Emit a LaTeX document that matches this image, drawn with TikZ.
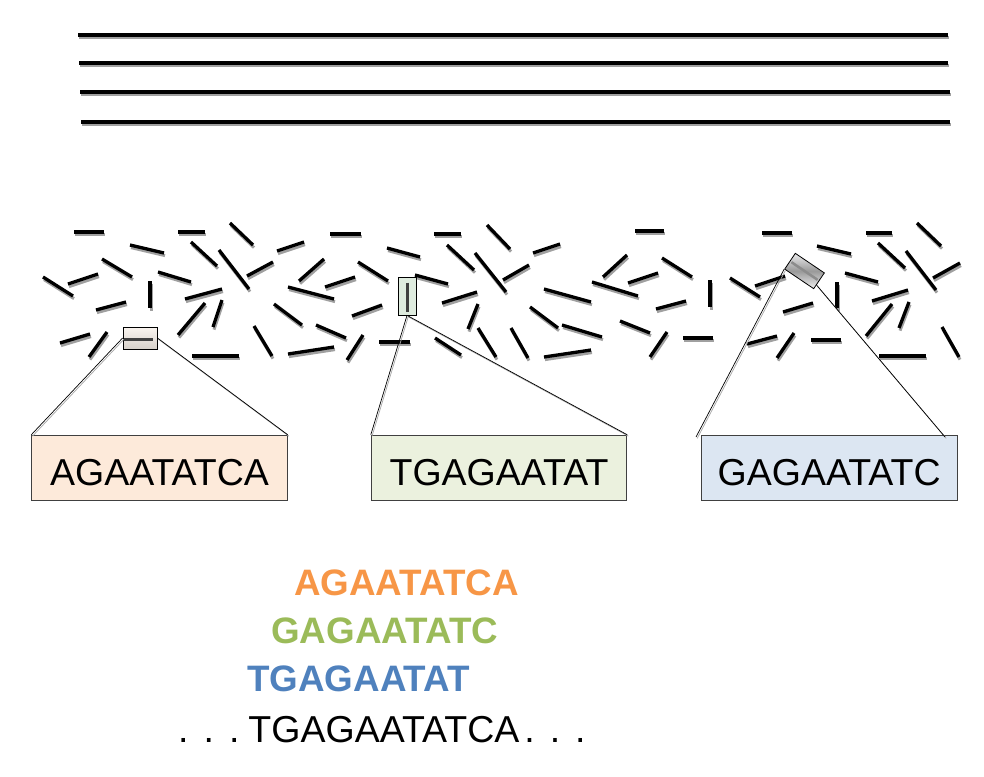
\documentclass[tikz,border=0pt]{standalone}
\usepackage{fontspec}
\setmainfont{Liberation Sans}
\usetikzlibrary{calc}
\definecolor{boxAfill}{HTML}{FDEADA}
\definecolor{boxBfill}{HTML}{EBF1DE}
\definecolor{boxCfill}{HTML}{DCE6F2}
\definecolor{seqorange}{HTML}{F79646}
\definecolor{seqgreen}{HTML}{9BBB59}
\definecolor{seqblue}{HTML}{4F81BD}
\definecolor{shadowgray}{HTML}{A0A0A0}
\begin{document}
\begin{tikzpicture}[x=1pt,y=-1pt,
  blackline/.style={line width=3.2pt,black},
  shadowline/.style={line width=3pt,shadowgray},
  frag/.style={line width=3.3pt,black},
  fragshadow/.style={line width=3pt,shadowgray},
  magbox/.style={draw=black,line width=0.8pt,inner sep=0pt},
  magbar/.style={line width=3pt,color=black!75},
  conn/.style={line width=0.7pt,black},
  connshadow/.style={line width=0.7pt,black!35,transform canvas={shift={(1.2,1.4)}}},
  seqbox/.style={draw=black!75,line width=0.8pt,minimum width=255.6pt,minimum height=65.7pt,
    inner sep=0pt,text height=34pt,text depth=0pt,font=\fontsize{37.5pt}{40pt}\selectfont},
  seqline/.style={anchor=base west,inner sep=0pt,font=\fontsize{36.8pt}{40pt}\selectfont\bfseries}
]
\useasboundingbox (0,0) rectangle (984,776);
\fill[white] (0,0) rectangle (984,776);

% chromosome lines
\foreach \y/\xa/\xb in {35/78/948, 63/79/948, 92/80/950, 122/81/950} {
  \draw[shadowline] (\xa+1,\y+2.8) -- (\xb+1,\y+2.8);
  \draw[blackline] (\xa,\y) -- (\xb,\y);
}

% fragments
\def\fraglist{74/232/104/232, 130/245/164/253, 178/232/205/232, 230/223/253/245,
 330/234/361/234, 277/251/304/242, 102/259/132/277, 191/242/217/266, 219/250/249/289,
 247/276/273/262, 299/281/324/259, 358/262/388/281, 43/277/73/296, 68/284/98/274,
 158/272/191/282, 150/281/150/308, 325/287/355/277, 288/287/334/299, 185/299/222/289,
 96/310/126/302, 178/335/205/303, 213/327/222/300, 274/304/302/325, 352/316/382/305,
 60/343/90/334, 89/357/107/332, 192/356/239/356, 254/326/272/356, 288/354/334/347,
 316/325/346/338, 347/360/363/335, 434/234/461/234, 487/225/510/249, 635/231/664/231,
 387/248/420/257, 447/245/474/270, 475/253/506/292, 533/253/560/244, 603/277/627/255,
 662/258/692/277, 415/275/448/284, 503/280/529/265, 442/303/477/292, 544/289/591/302,
 592/282/638/296, 628/283/658/273, 468/329/478/304, 530/307/558/328, 562/325/602/337,
 620/321/650/333, 656/309/686/301, 379/342/410/342, 435/338/461/355, 478/328/496/357,
 511/328/528/358, 544/357/591/350, 650/357/667/332, 762/233/792/233, 866/233/892/233,
 917/223/941/246, 817/246/851/254, 878/243/905/268, 906/251/936/290, 933/278/960/263,
 710/280/710/307, 730/278/760/297, 755/286/785/276, 845/273/878/282, 837/282/837/308,
 872/301/908/290, 783/312/813/303, 866/336/892/304, 899/328/909/302, 683/338/713/338,
 747/344/777/336, 777/358/794/333, 811/340/841/340, 879/356/926/356, 942/327/959/357}
\foreach \a/\b/\c/\d in \fraglist {
  \draw[fragshadow] (\a+1,\b+2.6) -- (\c+1,\d+2.6);
}
\foreach \a/\b/\c/\d in \fraglist {
  \draw[frag] (\a,\b) -- (\c,\d);
}

% magnified fragments
\node[magbox,minimum width=34pt,minimum height=22pt,top color=white!92!brown,bottom color=black!15!white!90!brown] (m1) at (140,338) {};
\draw[magbar] ($(m1.west)+(1,1.5)$) -- ++(29,0);
\node[magbox,minimum width=18pt,minimum height=38pt,fill=black!8!white!95!green] (m2) at (407,296) {};
\draw[magbar] ($(m2.north)+(0,6)$) -- ($(m2.south)+(0,-3)$);
\node[magbox,rotate=-34,minimum width=35pt,minimum height=19pt,top color=blue!6!black!8,bottom color=blue!5!black!6,middle color=black!40] (m3) at (804.5,271) {};
\draw[line width=2.5pt,black!45] ($(m3.west)!0.06!(m3.east)$) -- ($(m3.west)!0.94!(m3.east)$);

% read boxes
\node[seqbox,fill=boxAfill] (A) at (159.5,468) {AGAATATCA};
\node[seqbox,fill=boxBfill] (B) at (499,468) {TGAGAATAT};
\node[seqbox,fill=boxCfill] (C) at (829.2,468) {GAGAATATC};
\coordinate (cL) at (696,437);
\coordinate (cR) at (945,437);
\coordinate (m3r) at ($(m3.east)!0.5!(m3.south east)$);

% connectors
\draw[connshadow] (m1.west) -- (A.north west);
\draw[connshadow] (m1.east) -- (A.north east);
\draw[connshadow] (m2.south) -- (B.north west);
\draw[connshadow] (m2.south) -- (B.north east);
\draw[connshadow] (m3.south west) -- (cL);
\draw[connshadow] (m3r) -- (cR);
\draw[conn] (m1.west) -- (A.north west);
\draw[conn] (m1.east) -- (A.north east);
\draw[conn] (m2.south) -- (B.north west);
\draw[conn] (m2.south) -- (B.north east);
\draw[conn] (m3.south west) -- (cL);
\draw[conn] (m3r) -- (cR);

% assembly
\node[seqline,text=seqorange] (r1) at (294,595) {AGAATATCA};
\node[seqline,text=seqgreen] (r2) at (271,643) {GAGAATATC};
\node[seqline,text=seqblue] (r3) at (247,691) {TGAGAATAT};
\node[anchor=base west,inner sep=0pt,font=\fontsize{37.5pt}{40pt}\selectfont] (g) at (178,742)
  {.\hspace{15pt}.\hspace{15pt}.\hspace{9pt}TGAGAATATCA\hspace{5pt}.\hspace{15pt}.\hspace{15pt}.};
\end{tikzpicture}
\end{document}
